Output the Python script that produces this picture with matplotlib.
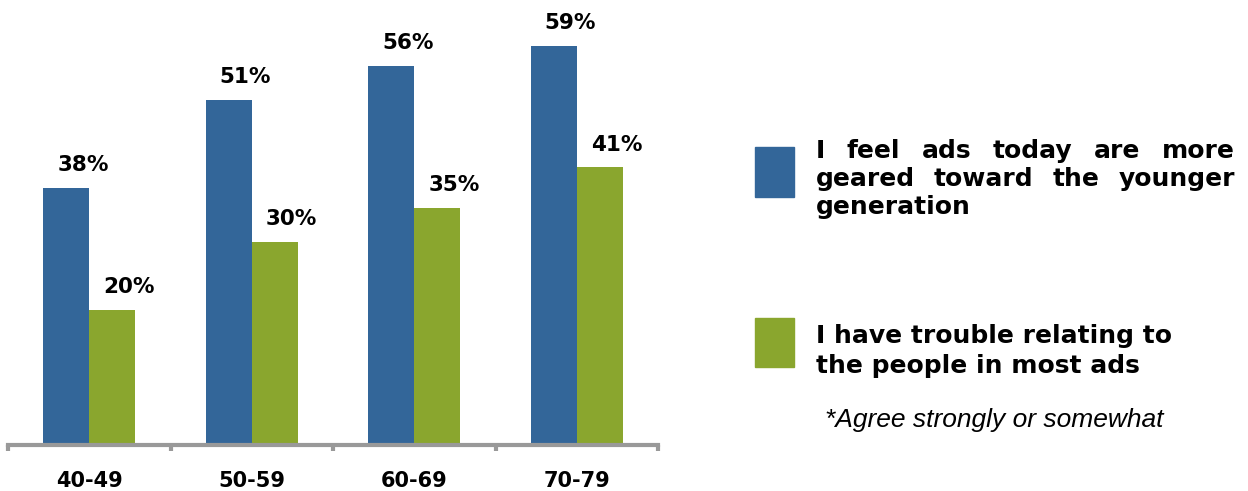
import matplotlib.pyplot as plt
from matplotlib.patches import Rectangle

ages = ['40-49', '50-59', '60-69', '70-79']
geared_younger = [38, 51, 56, 59]      # % who feel ads favour the young
trouble_relating = [20, 30, 35, 41]    # % who can't relate to people in ads

blue = '#336699'
green = '#8aa62e'
W, H = 1248, 491

fig = plt.figure(figsize=(W / 100, H / 100), dpi=100)
ax = fig.add_axes([8 / W, 46 / H, 650 / W, 440 / H])

bw = 0.283
xs = range(len(ages))
b1 = ax.bar([x - bw / 2 for x in xs], geared_younger, bw, color=blue)
b2 = ax.bar([x + bw / 2 for x in xs], trouble_relating, bw, color=green)

for bars, vals in ((b1, geared_younger), (b2, trouble_relating)):
    for bar, v in zip(bars, vals):
        ax.annotate(f'{v}%', (bar.get_x() + bar.get_width() / 2, v),
                    xytext=(12, 12), textcoords='offset points',
                    ha='center', va='baseline', fontsize=15.5,
                    fontweight='bold', family='DejaVu Sans')

ax.set_xlim(-0.5, 3.5)
ax.set_ylim(0, 65)
for side in ('top', 'right', 'left'):
    ax.spines[side].set_visible(False)
ax.spines['bottom'].set_color('#999999')
ax.spines['bottom'].set_linewidth(3)
ax.set_yticks([])
# ticks sit between the age groups, labels in the middle
ax.set_xticks([-0.5, 0.5, 1.5, 2.5, 3.5])
ax.set_xticklabels([])
ax.set_xticks(list(xs), minor=True)
ax.set_xticklabels(ages, minor=True, fontsize=15, fontweight='bold')
ax.tick_params(axis='x', which='major', length=4, width=3, color='#999999')
ax.tick_params(axis='x', which='minor', length=0, pad=19)

# legend drawn by hand: big squares and wrapped, justified text
fig.patches.append(Rectangle((755 / W, 1 - 197 / H), 39 / W, 50 / H,
                             color=blue, transform=fig.transFigure))
fig.patches.append(Rectangle((755 / W, 1 - 367 / H), 39 / W, 49 / H,
                             color=green, transform=fig.transFigure))

renderer = fig.canvas.get_renderer()
lsize = 18


def justify(line, x0, x1, y):
    words = line.split()
    texts = [fig.text(0, 1 - y / H, w, fontsize=lsize, fontweight='bold',
                      va='baseline') for w in words]
    widths = [t.get_window_extent(renderer).width for t in texts]
    gap = (x1 - x0 - sum(widths)) / (len(words) - 1)
    x = x0
    for t, w in zip(texts, widths):
        t.set_x(x / W)
        x += w + gap


justify('I feel ads today are more', 816, 1235, 158)
justify('geared toward the younger', 816, 1235, 186)
fig.text(816 / W, 1 - 214 / H, 'generation', fontsize=lsize,
         fontweight='bold', va='baseline')
fig.text(816 / W, 1 - 343 / H, 'I have trouble relating to', fontsize=lsize,
         fontweight='bold', va='baseline')
fig.text(816 / W, 1 - 373 / H, 'the people in most ads', fontsize=lsize,
         fontweight='bold', va='baseline')

fig.text(825 / W, 1 - 427 / H, '*Agree strongly or somewhat', fontsize=19,
         style='italic', family='Liberation Sans', va='baseline')

fig.savefig('out.png', dpi=100)
